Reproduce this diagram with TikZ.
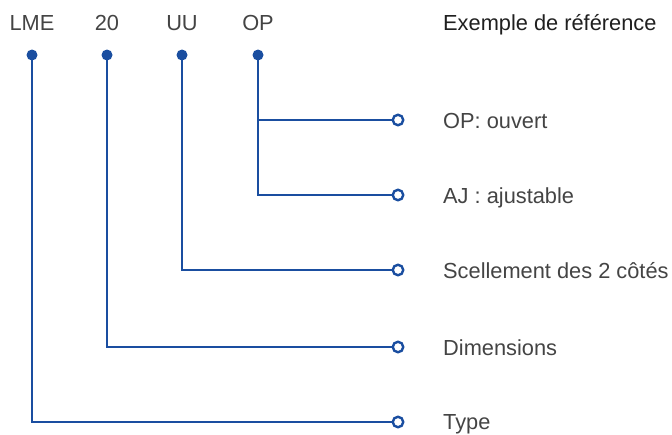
\documentclass[tikz,border=0pt]{standalone}
\usepackage{fontspec}
\setmainfont{Liberation Sans}
\definecolor{lineblue}{HTML}{1A4EA0}
\definecolor{txtgray}{HTML}{444444}
\begin{document}
\begin{tikzpicture}[x=1pt,y=-1pt,
  conn/.style={draw=lineblue,line width=2.6pt},
  dot/.style={circle,fill=lineblue,inner sep=0pt,minimum size=11pt},
  ring/.style={circle,draw=lineblue,fill=white,line width=2.4pt,inner sep=0pt,minimum size=10.5pt},
  code/.style={text=txtgray,font=\fontsize{21.8}{25}\selectfont,anchor=base,inner sep=0pt},
  lbl/.style={text=txtgray,font=\fontsize{21.8}{25}\selectfont,anchor=base west,inner sep=0pt}]
\useasboundingbox (0,0) rectangle (672,434);
% codes
\node[code] (tLME) at (32,30) {LME};
\node[code] (t20) at (107,30) {20};
\node[code] (tUU) at (182,30) {UU};
\node[code] (tOP) at (258,30) {OP};
\node[text=black!88,font=\fontsize{21.8}{25}\selectfont,anchor=base west,inner sep=0pt] (title) at (443,30) {Exemple de référence};
% dots
\node[dot] (dLME) at (32,55) {};
\node[dot] (d20) at (107,55) {};
\node[dot] (dUU) at (182,55) {};
\node[dot] (dOP) at (258,55) {};
% corners
\coordinate (bOP) at (258,120);
\coordinate (cOP) at (258,195);
\coordinate (cUU) at (182,270);
\coordinate (c20) at (107,347);
\coordinate (cLME) at (32,422);
% rings
\node[ring] (rOP) at (398,120) {};
\node[ring] (rAJ) at (398,195) {};
\node[ring] (rUU) at (398,270) {};
\node[ring] (r20) at (398,347) {};
\node[ring] (rLME) at (398,422) {};
% connectors
\draw[conn] (dOP.center) -- (cOP) -- (rAJ.west);
\draw[conn] (bOP) -- (rOP.west);
\draw[conn] (dUU.center) -- (cUU) -- (rUU.west);
\draw[conn] (d20.center) -- (c20) -- (r20.west);
\draw[conn] (dLME.center) -- (cLME) -- (rLME.west);
% labels
\node[lbl] (lOP) at (443,128) {OP: ouvert};
\node[lbl] (lAJ) at (443,203) {AJ : ajustable};
\node[lbl] (lUU) at (443,278) {Scellement des 2 côtés};
\node[lbl] (l20) at (443,355) {Dimensions};
\node[lbl] (lLME) at (443,429) {Type};
\end{tikzpicture}
\end{document}
